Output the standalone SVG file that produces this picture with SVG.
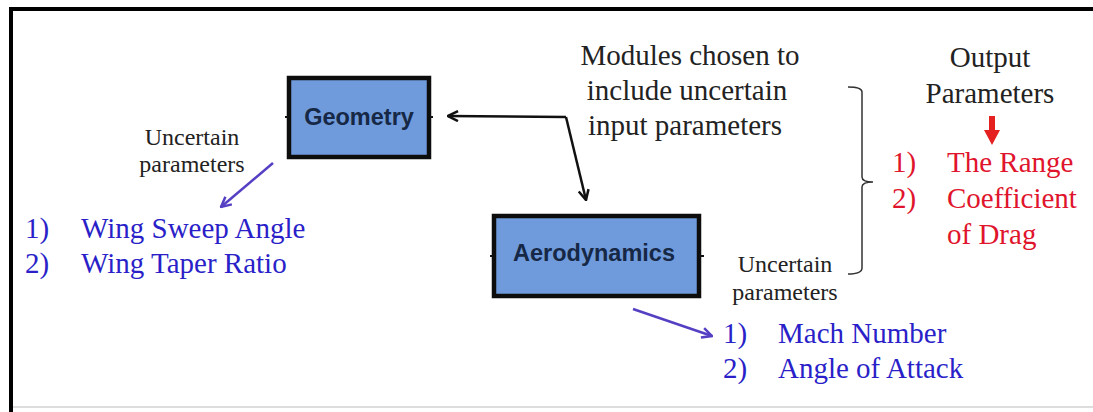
<svg xmlns="http://www.w3.org/2000/svg" width="1093" height="412" viewBox="0 0 1093 412">
<style>
.serif{font-family:"Liberation Serif","Times New Roman",serif}
.lbl{font-size:24px;fill:#222;text-anchor:middle}
.big{font-size:29px;fill:#222;text-anchor:middle}
.blue{font-size:29px;fill:#2a1fc8}
.red{font-size:29px;fill:#e0142c}
.box{fill:#6f9bdc;stroke:#0d0d0d;stroke-width:4.5}
.boxt{font-family:"Liberation Sans",Arial,sans-serif;font-weight:bold;font-size:23.5px;fill:#162845;text-anchor:middle}
.conn{fill:none;stroke:#111;stroke-width:2.5}
.bconn{fill:none;stroke:#5540c4;stroke-width:2.5}
</style>
<defs>
<marker id="ah" viewBox="0 0 12 12" refX="11" refY="6" markerWidth="12" markerHeight="12" markerUnits="userSpaceOnUse" orient="auto">
<path d="M1,1 L11,6 L1,11" fill="none" stroke="#111" stroke-width="2.5"/>
</marker>
<marker id="bh" viewBox="0 0 12 12" refX="11" refY="6" markerWidth="12" markerHeight="12" markerUnits="userSpaceOnUse" orient="auto">
<path d="M1,1 L11,6 L1,11" fill="none" stroke="#5540c4" stroke-width="2.5"/>
</marker>
</defs>
<rect x="0" y="0" width="1093" height="412" fill="#fff"/>
<g id="frame">
<line x1="9" y1="9" x2="1093" y2="9" stroke="#000" stroke-width="4"/>
<line x1="11" y1="9" x2="11" y2="412" stroke="#000" stroke-width="4"/>
<line x1="13" y1="407" x2="1093" y2="407" stroke="#ddd" stroke-width="2"/>
</g>
<g id="geometry">
<rect class="box" x="289" y="78" width="140" height="79"/>
<line x1="285" y1="117" x2="288" y2="117" stroke="#111" stroke-width="2"/>
<line x1="430" y1="117" x2="433" y2="117" stroke="#111" stroke-width="2"/>
<text class="boxt" x="359" y="125">Geometry</text>
</g>
<g id="aerodynamics">
<rect class="box" x="494" y="216" width="205" height="80"/>
<line x1="490" y1="256" x2="493" y2="256" stroke="#111" stroke-width="2"/>
<line x1="700" y1="256" x2="704" y2="256" stroke="#111" stroke-width="2"/>
<text class="boxt" x="594" y="261">Aerodynamics</text>
</g>
<g id="connectors">
<path class="conn" d="M566,117 L448,116" marker-end="url(#ah)"/>
<path class="conn" d="M566,117 L586,200" marker-end="url(#ah)"/>
<path class="bconn" d="M273,163 L221,207" marker-end="url(#bh)"/>
<path class="bconn" d="M633,309 L712,336" marker-end="url(#bh)"/>
</g>
<g id="modules-note">
<text class="serif big" x="690" y="65">Modules chosen to</text>
<text class="serif big" x="687" y="100">include uncertain</text>
<text class="serif big" x="685" y="135">input parameters</text>
</g>
<g id="brace">
<path d="M848,87 Q862,87 862,92 L862,177 Q862,182 873,182 Q862,182 862,187 L862,268 Q862,274 848,274" fill="none" stroke="#333" stroke-width="1.5"/>
</g>
<g id="output-params">
<text class="serif big" x="990" y="67">Output</text>
<text class="serif big" x="990" y="103">Parameters</text>
<path d="M989,116 L995,116 L995,130 L1000,130 L992,145 L984,130 L989,130 Z" fill="#e52020"/>
<text class="serif red" x="892" y="172">1)</text>
<text class="serif red" x="947" y="172">The Range</text>
<text class="serif red" x="892" y="208">2)</text>
<text class="serif red" x="947" y="208">Coefficient</text>
<text class="serif red" x="947" y="244">of Drag</text>
</g>
<g id="geom-params">
<text class="serif lbl" x="192" y="145">Uncertain</text>
<text class="serif lbl" x="192" y="172">parameters</text>
<text class="serif blue" x="25" y="238">1)</text>
<text class="serif blue" x="81" y="238">Wing Sweep Angle</text>
<text class="serif blue" x="25" y="273">2)</text>
<text class="serif blue" x="81" y="273">Wing Taper Ratio</text>
</g>
<g id="aero-params">
<text class="serif lbl" x="785" y="272">Uncertain</text>
<text class="serif lbl" x="785" y="300">parameters</text>
<text class="serif blue" x="723" y="343">1)</text>
<text class="serif blue" x="778" y="343">Mach Number</text>
<text class="serif blue" x="723" y="378">2)</text>
<text class="serif blue" x="778" y="378">Angle of Attack</text>
</g>
</svg>
